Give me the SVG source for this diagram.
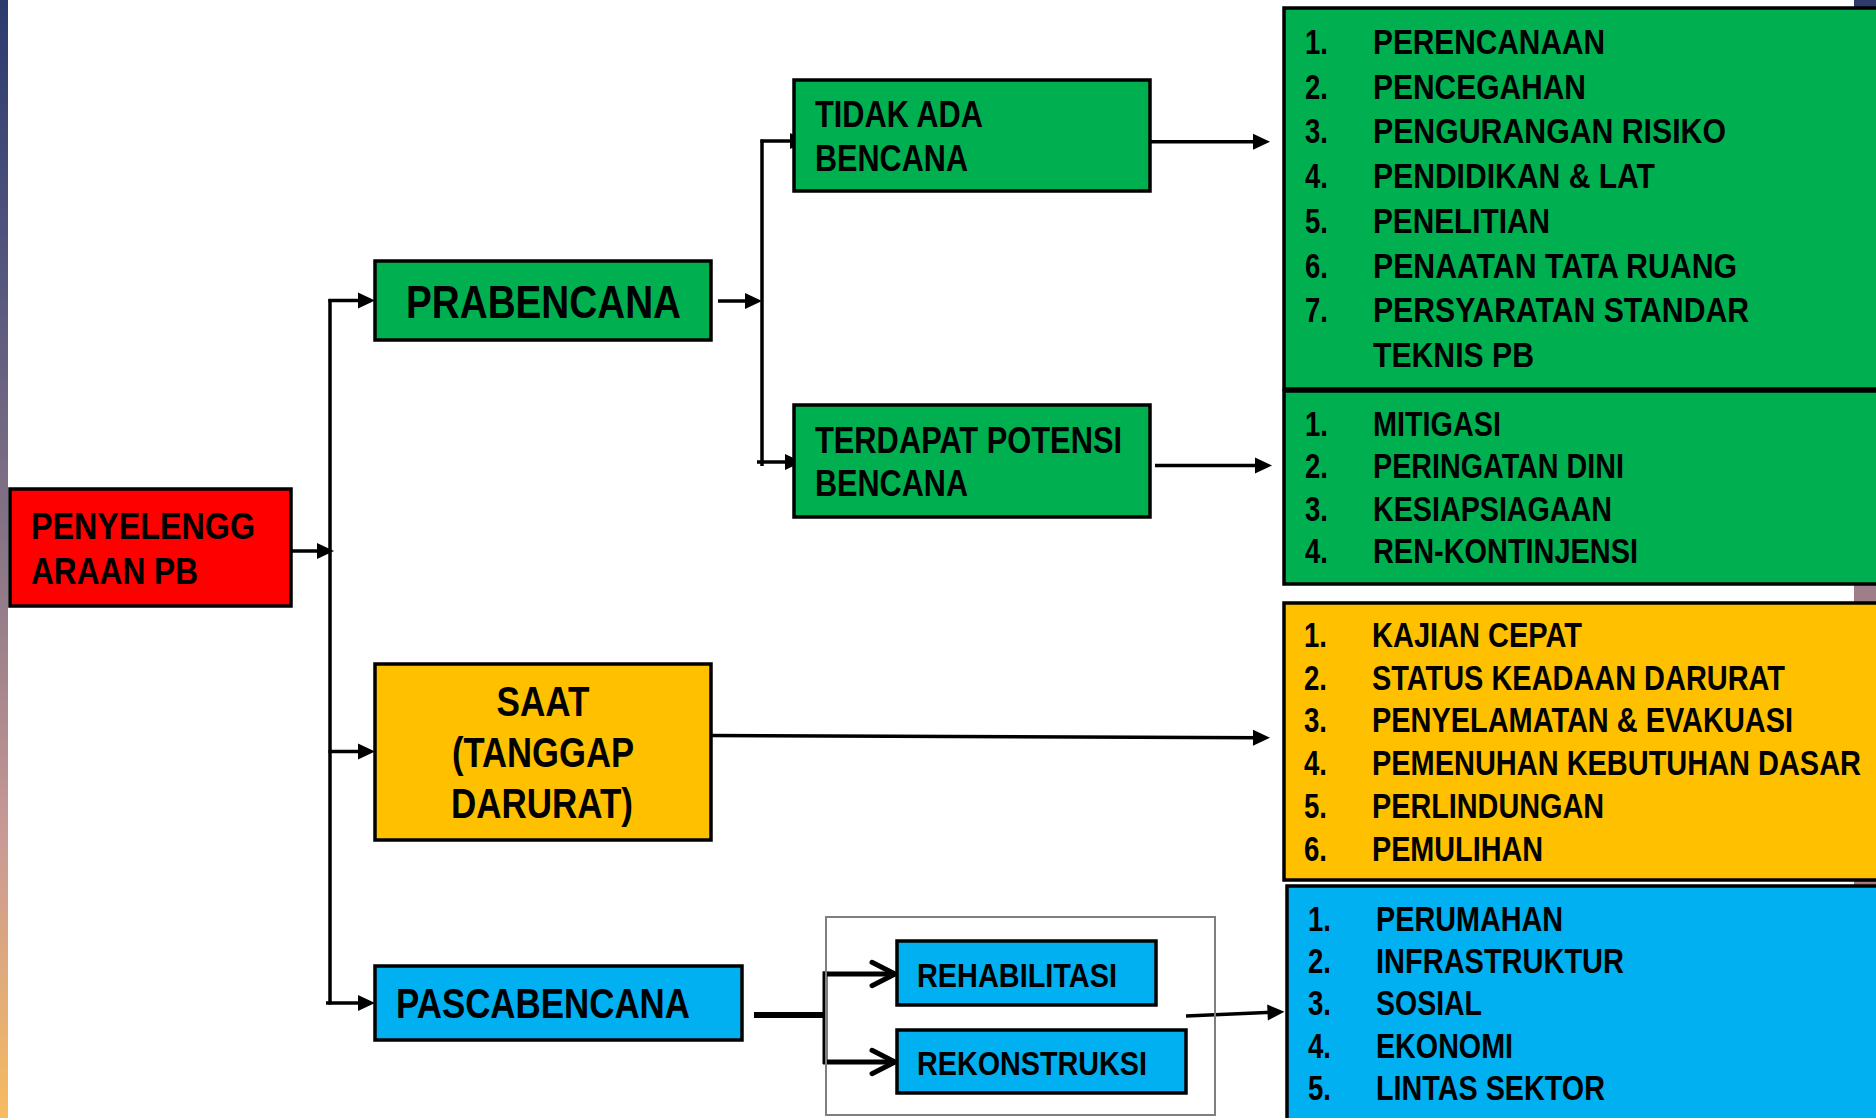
<svg xmlns="http://www.w3.org/2000/svg" width="1876" height="1118" viewBox="0 0 1876 1118">
<defs>
<linearGradient id="gl" x1="0" y1="0" x2="0" y2="1">
<stop offset="0" stop-color="#2B3A6E"/>
<stop offset="0.25" stop-color="#56577E"/>
<stop offset="0.5" stop-color="#8A7686"/>
<stop offset="0.75" stop-color="#C99A95"/>
<stop offset="1" stop-color="#F7BB60"/>
</linearGradient>
<linearGradient id="gr" x1="0" y1="0" x2="0" y2="1">
<stop offset="0" stop-color="#2E3A6B"/>
<stop offset="0.52" stop-color="#9E7E8A"/>
<stop offset="0.8" stop-color="#A27A7E"/>
<stop offset="1" stop-color="#D8A080"/>
</linearGradient>
<marker id="tri" markerUnits="userSpaceOnUse" markerWidth="17" markerHeight="17" viewBox="0 0 17 17" refX="7" refY="8.5" orient="auto" overflow="visible">
<path d="M0,0.5 L17,8.5 L0,16.5 z" fill="#000"/>
</marker>
<marker id="vee" markerUnits="userSpaceOnUse" markerWidth="30" markerHeight="30" viewBox="0 0 30 30" refX="26" refY="15" orient="auto" overflow="visible">
<path d="M3,3.3 L26,15 L3,26.7" fill="none" stroke="#000" stroke-width="5" stroke-linecap="round" stroke-linejoin="miter"/>
</marker>
</defs>
<style>
.box{stroke:#000;stroke-width:3.5}
.g{fill:#00B050}
.r{fill:#FF0000}
.y{fill:#FFC000}
.b{fill:#00B0F0}
text{font-family:"Liberation Sans Narrow","Liberation Sans",Arial,sans-serif;font-weight:bold;fill:#000}
.l{font-size:35px}
.m{font-size:36px}
.big{font-size:42px}
.sm{font-size:33px}
.ln{stroke:#000;stroke-width:3.5;fill:none}
.arr{stroke:#000;stroke-width:3.5;fill:none;marker-end:url(#tri)}
</style>
<rect x="0" y="0" width="1876" height="1118" fill="#FFFFFF"/>
<rect x="0" y="0" width="8" height="1118" fill="url(#gl)"/>
<rect x="1854" y="0" width="22" height="1118" fill="url(#gr)"/>

<g id="connectors">
<line class="arr" x1="291" y1="551" x2="324" y2="551"/>
<line class="ln" x1="330" y1="299" x2="330" y2="1004.5"/>
<line class="arr" x1="328.5" y1="300.5" x2="365" y2="300.5"/>
<line class="arr" x1="328.5" y1="751.5" x2="365" y2="751.5"/>
<line class="arr" x1="326" y1="1003" x2="365" y2="1003"/>
<line class="arr" x1="718" y1="301" x2="752" y2="301"/>
<line class="ln" x1="762" y1="139.5" x2="762" y2="466"/>
<line class="arr" x1="760.5" y1="141" x2="797" y2="141"/>
<line class="arr" x1="757" y1="462" x2="792" y2="462"/>
<line class="arr" x1="1150" y1="141.7" x2="1260" y2="141.7"/>
<line class="arr" x1="1155" y1="465.5" x2="1262" y2="465.5"/>
<line class="arr" x1="711" y1="735.5" x2="1260" y2="737.8"/>
<line x1="754" y1="1015" x2="825" y2="1015" stroke="#000" stroke-width="6"/>
<line x1="825" y1="971.5" x2="825" y2="1064" stroke="#000" stroke-width="5"/>
<line x1="823" y1="974" x2="895" y2="974" stroke="#000" stroke-width="5" marker-end="url(#vee)"/>
<line x1="823" y1="1062" x2="895" y2="1062" stroke="#000" stroke-width="5" marker-end="url(#vee)"/>
<line class="arr" x1="1186" y1="1016" x2="1274.5" y2="1012.2"/>
</g>

<g id="node-penyelenggaraan">
<rect class="box r" x="10" y="489" width="281" height="117"/>
<text class="m" x="31" y="538.5" textLength="224" lengthAdjust="spacingAndGlyphs">PENYELENGG</text>
<text class="m" x="31" y="584" textLength="167" lengthAdjust="spacingAndGlyphs">ARAAN PB</text>
</g>

<g id="node-prabencana">
<rect class="box g" x="375" y="261" width="336" height="79"/>
<text x="406" y="317.5" font-size="46" textLength="275" lengthAdjust="spacingAndGlyphs">PRABENCANA</text>
</g>

<g id="node-tidak-ada">
<rect class="box g" x="794" y="80" width="356" height="111"/>
<text class="m" x="815" y="127.4" textLength="168" lengthAdjust="spacingAndGlyphs">TIDAK ADA</text>
<text class="m" x="815" y="171" textLength="153" lengthAdjust="spacingAndGlyphs">BENCANA</text>
</g>

<g id="node-terdapat">
<rect class="box g" x="794" y="405" width="356" height="112"/>
<text class="m" x="815" y="452.7" textLength="307" lengthAdjust="spacingAndGlyphs">TERDAPAT POTENSI</text>
<text class="m" x="815" y="496" textLength="153" lengthAdjust="spacingAndGlyphs">BENCANA</text>
</g>

<g id="node-saat">
<rect class="box y" x="375" y="664" width="336" height="176"/>
<text class="big" x="543" y="715.5" text-anchor="middle" textLength="93" lengthAdjust="spacingAndGlyphs">SAAT</text>
<text class="big" x="543" y="767" text-anchor="middle" textLength="182" lengthAdjust="spacingAndGlyphs">(TANGGAP</text>
<text class="big" x="542" y="817.5" text-anchor="middle" textLength="182" lengthAdjust="spacingAndGlyphs">DARURAT)</text>
</g>

<g id="node-pascabencana">
<rect class="box b" x="375" y="966" width="367" height="74"/>
<text class="big" x="396" y="1018" textLength="294" lengthAdjust="spacingAndGlyphs">PASCABENCANA</text>
</g>

<g id="node-group-frame">
<rect x="826" y="917" width="389" height="198" fill="none" stroke="#7F7F7F" stroke-width="2"/>
</g>

<g id="node-rehabilitasi">
<rect class="box b" x="897" y="941" width="259" height="64"/>
<text class="sm" x="917" y="987" textLength="200" lengthAdjust="spacingAndGlyphs">REHABILITASI</text>
</g>

<g id="node-rekonstruksi">
<rect class="box b" x="897" y="1030" width="289" height="63"/>
<text class="sm" x="917" y="1075" textLength="230" lengthAdjust="spacingAndGlyphs">REKONSTRUKSI</text>
</g>

<g id="node-list-tidak-ada">
<rect class="box g" x="1284" y="8" width="620" height="381"/>
<text class="l" x="1305" y="54" textLength="23" lengthAdjust="spacingAndGlyphs">1.</text>
<text class="l" x="1373" y="54" textLength="232" lengthAdjust="spacingAndGlyphs">PERENCANAAN</text>
<text class="l" x="1305" y="98.7" textLength="23" lengthAdjust="spacingAndGlyphs">2.</text>
<text class="l" x="1373" y="98.7" textLength="213" lengthAdjust="spacingAndGlyphs">PENCEGAHAN</text>
<text class="l" x="1305" y="143.4" textLength="23" lengthAdjust="spacingAndGlyphs">3.</text>
<text class="l" x="1373" y="143.4" textLength="353" lengthAdjust="spacingAndGlyphs">PENGURANGAN RISIKO</text>
<text class="l" x="1305" y="188.1" textLength="23" lengthAdjust="spacingAndGlyphs">4.</text>
<text class="l" x="1373" y="188.1" textLength="282" lengthAdjust="spacingAndGlyphs">PENDIDIKAN &amp; LAT</text>
<text class="l" x="1305" y="232.8" textLength="23" lengthAdjust="spacingAndGlyphs">5.</text>
<text class="l" x="1373" y="232.8" textLength="177" lengthAdjust="spacingAndGlyphs">PENELITIAN</text>
<text class="l" x="1305" y="277.5" textLength="23" lengthAdjust="spacingAndGlyphs">6.</text>
<text class="l" x="1373" y="277.5" textLength="364" lengthAdjust="spacingAndGlyphs">PENAATAN TATA RUANG</text>
<text class="l" x="1305" y="322.2" textLength="23" lengthAdjust="spacingAndGlyphs">7.</text>
<text class="l" x="1373" y="322.2" textLength="376" lengthAdjust="spacingAndGlyphs">PERSYARATAN STANDAR</text>
<text class="l" x="1373" y="366.9" textLength="161" lengthAdjust="spacingAndGlyphs">TEKNIS PB</text>
</g>

<g id="node-list-potensi">
<rect class="box g" x="1284" y="391" width="620" height="193"/>
<text class="l" x="1305" y="435.5" textLength="23" lengthAdjust="spacingAndGlyphs">1.</text>
<text class="l" x="1373" y="435.5" textLength="128" lengthAdjust="spacingAndGlyphs">MITIGASI</text>
<text class="l" x="1305" y="478.1" textLength="23" lengthAdjust="spacingAndGlyphs">2.</text>
<text class="l" x="1373" y="478.1" textLength="251" lengthAdjust="spacingAndGlyphs">PERINGATAN DINI</text>
<text class="l" x="1305" y="520.7" textLength="23" lengthAdjust="spacingAndGlyphs">3.</text>
<text class="l" x="1373" y="520.7" textLength="239" lengthAdjust="spacingAndGlyphs">KESIAPSIAGAAN</text>
<text class="l" x="1305" y="563.3" textLength="23" lengthAdjust="spacingAndGlyphs">4.</text>
<text class="l" x="1373" y="563.3" textLength="265" lengthAdjust="spacingAndGlyphs">REN-KONTINJENSI</text>
</g>

<g id="node-list-saat">
<rect class="box y" x="1284" y="603" width="620" height="277"/>
<text class="l" x="1304" y="647" textLength="23" lengthAdjust="spacingAndGlyphs">1.</text>
<text class="l" x="1372" y="647" textLength="210" lengthAdjust="spacingAndGlyphs">KAJIAN CEPAT</text>
<text class="l" x="1304" y="689.7" textLength="23" lengthAdjust="spacingAndGlyphs">2.</text>
<text class="l" x="1372" y="689.7" textLength="413" lengthAdjust="spacingAndGlyphs">STATUS KEADAAN DARURAT</text>
<text class="l" x="1304" y="732.4" textLength="23" lengthAdjust="spacingAndGlyphs">3.</text>
<text class="l" x="1372" y="732.4" textLength="421" lengthAdjust="spacingAndGlyphs">PENYELAMATAN &amp; EVAKUASI</text>
<text class="l" x="1304" y="775.1" textLength="23" lengthAdjust="spacingAndGlyphs">4.</text>
<text class="l" x="1372" y="775.1" textLength="489" lengthAdjust="spacingAndGlyphs">PEMENUHAN KEBUTUHAN DASAR</text>
<text class="l" x="1304" y="817.8" textLength="23" lengthAdjust="spacingAndGlyphs">5.</text>
<text class="l" x="1372" y="817.8" textLength="232" lengthAdjust="spacingAndGlyphs">PERLINDUNGAN</text>
<text class="l" x="1304" y="860.5" textLength="23" lengthAdjust="spacingAndGlyphs">6.</text>
<text class="l" x="1372" y="860.5" textLength="171" lengthAdjust="spacingAndGlyphs">PEMULIHAN</text>
</g>

<g id="node-list-pasca">
<rect class="box b" x="1287" y="886" width="620" height="250"/>
<text class="l" x="1308" y="930.7" textLength="23" lengthAdjust="spacingAndGlyphs">1.</text>
<text class="l" x="1376" y="930.7" textLength="187" lengthAdjust="spacingAndGlyphs">PERUMAHAN</text>
<text class="l" x="1308" y="973" textLength="23" lengthAdjust="spacingAndGlyphs">2.</text>
<text class="l" x="1376" y="973" textLength="248" lengthAdjust="spacingAndGlyphs">INFRASTRUKTUR</text>
<text class="l" x="1308" y="1015.3" textLength="23" lengthAdjust="spacingAndGlyphs">3.</text>
<text class="l" x="1376" y="1015.3" textLength="106" lengthAdjust="spacingAndGlyphs">SOSIAL</text>
<text class="l" x="1308" y="1057.6" textLength="23" lengthAdjust="spacingAndGlyphs">4.</text>
<text class="l" x="1376" y="1057.6" textLength="137" lengthAdjust="spacingAndGlyphs">EKONOMI</text>
<text class="l" x="1308" y="1100" textLength="23" lengthAdjust="spacingAndGlyphs">5.</text>
<text class="l" x="1376" y="1100" textLength="229" lengthAdjust="spacingAndGlyphs">LINTAS SEKTOR</text>
</g>
</svg>
